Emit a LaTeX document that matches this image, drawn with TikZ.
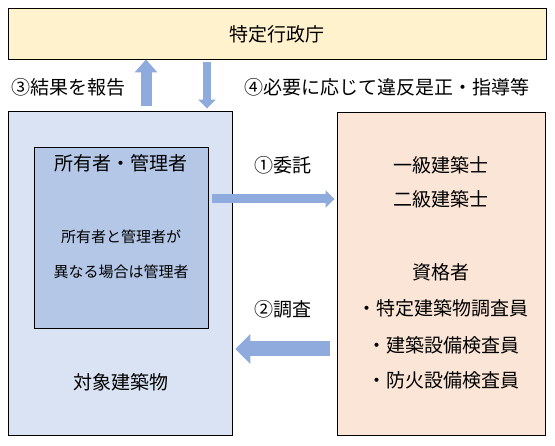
\documentclass[tikz,border=0pt]{standalone}
\usepackage{fontspec}
\setmainfont{Noto Sans CJK JP}
\usetikzlibrary{arrows.meta}
\definecolor{topfill}{HTML}{FFF2CC}
\definecolor{leftfill}{HTML}{DAE3F3}
\definecolor{innerfill}{HTML}{B4C7E7}
\definecolor{rightfill}{HTML}{FBE5D6}
\definecolor{arrowcol}{HTML}{8FAADC}
\tikzset{
  boxstyle/.style={draw=black, line width=0.9pt, rectangle, inner sep=0pt},
  txt/.style={inner sep=0pt, font=\fontsize{19}{22}\selectfont},
  smalltxt/.style={inner sep=0pt, font=\fontsize{15}{18}\selectfont},
  blockarrow/.style={draw=arrowcol, line cap=butt}
}
\begin{document}
\begin{tikzpicture}[x=1pt,y=-1pt]
\useasboundingbox (0,0) rectangle (555,446);
% boxes
\node[boxstyle, fill=topfill, minimum width=538pt, minimum height=51pt] (top) at (277,33.5) {};
\node[boxstyle, fill=leftfill, minimum width=224pt, minimum height=324pt] (left) at (120,273) {};
\node[boxstyle, fill=innerfill, minimum width=174pt, minimum height=181pt] (inner) at (121,237.5) {};
\node[boxstyle, fill=rightfill, minimum width=208pt, minimum height=323pt] (right) at (441,273.5) {};
% texts
\node[txt] (ttop) at (277,34) {特定行政庁};
\node[txt] (t3) at (69,87) {③結果を報告};
\node[txt] (t4) at (387,87) {④必要に応じて違反是正・指導等};
\node[txt] (t1) at (283,165) {①委託};
\node[txt] (t2) at (283,309) {②調査};
\node[txt] (towner) at (121,163) {所有者・管理者};
\node[smalltxt] (ts1) at (121,237) {所有者と管理者が};
\node[smalltxt] (ts2) at (121,272) {異なる場合は管理者};
\node[txt] (tbld) at (121,382) {対象建築物};
\node[txt] (r1) at (441,165) {一級建築士};
\node[txt] (r2) at (441,199) {二級建築士};
\node[txt] (r3) at (441,272) {資格者};
\node[txt] (r4) at (443,308) {・特定建築物調査員};
\node[txt] (r5) at (443,345) {・建築設備検査員};
\node[txt] (r6) at (443,380) {・防火設備検査員};
% arrow end points
\coordinate (a3s) at (146,106);
\coordinate (a4s) at (207,62);
\coordinate (a1s) at (212,199);
\coordinate (a2s) at (330,349);
% arrows
\draw[blockarrow, line width=11pt, -{Triangle[width=22pt,length=13pt]}] (a3s) -- (a3s |- top.south);
\draw[blockarrow, line width=8pt, -{Triangle[width=17pt,length=9pt]}] (a4s) -- ([yshift=2pt]a4s |- left.north);
\draw[blockarrow, line width=9pt, -{Triangle[width=17pt,length=9pt]}] (a1s) -- ([xshift=-2pt]a1s -| right.west);
\draw[blockarrow, line width=15pt, -{Triangle[width=29pt,length=15pt]}] (a2s) -- ([xshift=3pt]a2s -| left.east);
\end{tikzpicture}
\end{document}
